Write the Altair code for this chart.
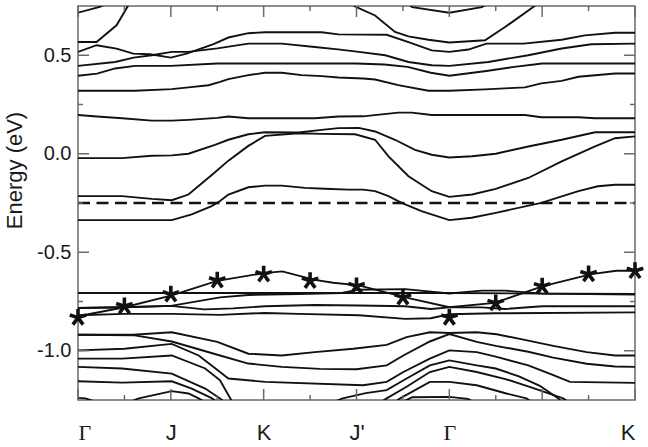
import json
import altair as alt
import pandas as pd

# ---- axis definitions -------------------------------------------------
x_tick_major = [0, 2, 4, 6, 8, 10, 12]
x_tick_minor = [1, 3, 5, 7, 9, 11]
x_label_pos = [0, 2, 4, 6, 8, 12]
x_label_txt = ["Γ", "J", "K", "J'", "Γ", "K"]
y_tick_major = [-1.0, -0.5, 0.0, 0.5]
y_tick_minor = [-0.75, -0.25, 0.25]
fermi_level = -0.25

# ---- bands: (k-path position, energy eV) --------------------------------
band_a = [(0, 0.716), (0.47, 0.745), (0.9, 0.80)]
band_b1 = [(0, 0.567), (0.4, 0.567), (0.83, 0.652), (1.0, 0.72), (1.15, 0.78)]
band_b2 = [(5.6, 0.80), (6.0, 0.744), (6.4, 0.702), (6.83, 0.618), (7.12, 0.596),
           (7.55, 0.579), (8.0, 0.565), (8.77, 0.576), (9.2, 0.643), (9.8, 0.744), (10.0, 0.78)]
band_t = [(6.9, 0.80), (7.2, 0.744), (8.0, 0.716), (8.7, 0.744), (9.0, 0.79)]
band_c = [(0, 0.517), (0.4, 0.551), (0.83, 0.534), (1.19, 0.508), (1.55, 0.505), (2.0, 0.488),
          (2.34, 0.508), (2.92, 0.556), (3.24, 0.59), (3.67, 0.612), (4.03, 0.617), (5.25, 0.617),
          (5.61, 0.606), (6.65, 0.604), (7.12, 0.567), (7.62, 0.525), (8.0, 0.517), (8.41, 0.529),
          (8.8, 0.559), (9.6, 0.559), (10.42, 0.579), (10.92, 0.601), (11.57, 0.614), (12, 0.614)]
band_d = [(0, 0.446), (0.8, 0.466), (1.2, 0.488), (1.59, 0.5), (2.02, 0.517), (2.38, 0.517),
          (3.0, 0.535), (3.67, 0.559), (4.39, 0.559), (5.1, 0.542), (5.6, 0.530), (6.05, 0.517),
          (6.62, 0.5), (7.12, 0.466), (7.62, 0.449), (8.0, 0.446), (8.84, 0.466), (9.7, 0.5),
          (10.42, 0.534), (11.06, 0.556), (12, 0.559)]
band_e = [(0, 0.396), (0.41, 0.407), (0.8, 0.433), (1.23, 0.446), (2.0, 0.446), (3.0, 0.458),
          (6.0, 0.458), (6.6, 0.453), (7.1, 0.441), (7.6, 0.411), (8.0, 0.396), (8.8, 0.42),
          (9.4, 0.441), (10.0, 0.458), (12, 0.458)]
band_f = [(0, 0.32), (1.23, 0.32), (2.02, 0.328), (2.38, 0.337), (2.81, 0.348), (3.06, 0.365),
          (3.24, 0.379), (3.67, 0.399), (4.03, 0.411), (4.39, 0.411), (4.82, 0.399), (5.25, 0.394),
          (5.61, 0.387), (6.14, 0.382), (6.4, 0.377), (6.9, 0.348), (7.55, 0.32), (8.0, 0.32),
          (8.77, 0.327), (9.3, 0.333), (9.63, 0.337), (9.98, 0.357), (10.42, 0.37), (10.78, 0.391),
          (11.57, 0.407), (12, 0.407)]
band_g = [(0, 0.197), (0.41, 0.189), (0.95, 0.18), (1.59, 0.168), (2.02, 0.168), (2.38, 0.172),
          (3.0, 0.182), (3.24, 0.189), (3.67, 0.18), (5.1, 0.18), (5.61, 0.189), (6.14, 0.19),
          (6.9, 0.209), (7.19, 0.209), (7.62, 0.197), (9.63, 0.197), (9.98, 0.185), (10.78, 0.185),
          (11.14, 0.18), (12, 0.18)]
band_h = [(0, -0.022), (0.95, -0.022), (1.59, -0.01), (2.02, -0.008), (2.38, 0.0), (2.95, 0.045),
          (3.24, 0.071), (3.67, 0.099), (4.03, 0.109), (4.75, 0.108), (5.25, 0.121), (5.61, 0.13),
          (6.05, 0.131), (6.4, 0.113), (6.83, 0.071), (7.26, 0.02), (7.62, -0.005), (8.0, -0.019),
          (8.49, -0.013), (9.0, 0.0), (9.7, 0.037), (10.42, 0.071), (11.14, 0.109), (12, 0.109)]
band_i = [(0, -0.215), (0.95, -0.215), (1.59, -0.229), (2.02, -0.236), (2.38, -0.207), (2.92, -0.1),
          (3.24, -0.035), (3.67, 0.04), (4.03, 0.091), (4.75, 0.104), (5.25, 0.101), (5.97, 0.099),
          (6.4, 0.071), (6.69, -0.013), (7.12, -0.114), (7.62, -0.19), (8.0, -0.219), (8.49, -0.207),
          (9.0, -0.178), (9.7, -0.123), (10.42, -0.039), (11.14, 0.037), (11.57, 0.079), (12, 0.088)]
band_j = [(0, -0.337), (2.02, -0.337), (2.45, -0.308), (2.88, -0.266), (3.06, -0.24), (3.24, -0.207),
          (3.67, -0.17), (4.03, -0.162), (4.39, -0.162), (4.89, -0.173), (5.32, -0.178), (5.82, -0.182),
          (6.14, -0.182), (6.4, -0.19), (6.69, -0.215), (6.97, -0.249), (7.4, -0.291), (8.0, -0.337),
          (8.48, -0.325), (9.0, -0.30), (9.98, -0.249), (10.78, -0.19), (11.2, -0.165), (11.57, -0.157),
          (12, -0.157)]
band_s = [(0, -0.825), (1, -0.779), (2, -0.72), (3, -0.645), (4, -0.606), (4.4, -0.597), (5.1, -0.64),
          (5.5, -0.655), (6.05, -0.668), (7.05, -0.729), (8.0, -0.779), (8.98, -0.757), (10.0, -0.673),
          (11.06, -0.611), (11.6, -0.594), (12, -0.594)]
band_l1 = [(0, -0.707), (4, -0.707), (8, -0.707), (12, -0.712)]
band_l2 = [(0, -0.783), (1, -0.779), (2, -0.772), (3.06, -0.729), (3.67, -0.717), (4.75, -0.712),
           (5.68, -0.707), (6.05, -0.69), (7.05, -0.687), (8.0, -0.709), (8.7, -0.695), (9.2, -0.695),
           (10.0, -0.71), (12, -0.715)]
band_l3 = [(0, -0.783), (1, -0.779), (2, -0.772), (2.72, -0.79), (3.34, -0.785), (4.03, -0.774),
           (5.1, -0.768), (6.05, -0.77), (7.05, -0.774), (7.6, -0.788), (8.0, -0.78), (8.7, -0.78),
           (9.2, -0.788), (10.0, -0.774), (12, -0.774)]
band_l4 = [(0, -0.82), (1, -0.813), (2.02, -0.813), (3.06, -0.818), (4.03, -0.808), (4.75, -0.813),
           (6.05, -0.82), (7.05, -0.838), (7.6, -0.835), (8.0, -0.815), (9.0, -0.81), (12, -0.805)]
band_m1 = [(0, -0.919), (1.19, -0.919), (2.02, -0.906), (3.0, -0.955), (3.67, -1.015), (4.39, -1.024),
           (5.1, -1.007), (5.93, -0.99), (6.65, -0.97), (7.08, -0.931), (7.58, -0.906), (8.0, -0.91),
           (8.59, -0.906), (9.02, -0.916), (9.52, -0.94), (10.24, -0.975), (10.96, -1.007),
           (11.57, -1.024), (12, -1.024)]
band_m2 = [(0, -0.919), (1.19, -0.921), (2.02, -0.953), (3.06, -1.024), (3.67, -1.065), (4.39, -1.082),
           (5.21, -1.092), (6.0, -1.094), (6.65, -1.074), (7.01, -1.024), (7.58, -0.953), (8.0, -0.915),
           (8.59, -0.955), (9.0, -0.975), (9.7, -1.005), (10.24, -1.035), (10.96, -1.066),
           (11.57, -1.08), (12, -1.082)]
band_m3 = [(0, -0.998), (1.0, -0.99), (2.02, -0.965), (2.6, -1.024), (3.06, -1.108), (3.24, -1.141),
           (4.03, -1.158), (6.14, -1.175), (6.65, -1.158), (7.01, -1.108), (7.58, -1.04), (8.0, -0.998),
           (8.59, -1.007), (9.0, -1.03), (9.7, -1.074), (10.2, -1.12), (10.6, -1.158), (12, -1.163)]
band_m4 = [(0, -1.04), (0.95, -1.04), (2.02, -1.024), (2.74, -1.09), (3.06, -1.15), (3.3, -1.25), (3.4, -1.30)]
band_m5 = [(0, -1.082), (0.95, -1.09), (2.02, -1.116), (2.74, -1.192), (3.06, -1.242), (3.3, -1.29)]
band_m6 = [(0, -1.155), (0.95, -1.162), (2.02, -1.155), (2.45, -1.192), (2.89, -1.242), (3.1, -1.28)]
band_m7 = [(0, -1.239), (0.16, -1.242), (0.4, -1.26)]
band_m8 = [(1.0, -1.27), (1.31, -1.242), (2.02, -1.205), (2.38, -1.217), (2.6, -1.242), (2.8, -1.27)]
band_r1 = [(5.3, -1.28), (5.7, -1.242), (6.2, -1.215), (6.65, -1.2), (7.08, -1.141), (7.58, -1.074),
           (8.0, -1.049), (8.59, -1.074), (9.0, -1.09), (9.5, -1.13), (9.95, -1.178), (10.35, -1.242),
           (10.5, -1.28)]
band_r2 = [(6.4, -1.28), (6.65, -1.242), (7.08, -1.183), (7.58, -1.108), (8.0, -1.082), (8.59, -1.108),
           (9.23, -1.145), (9.81, -1.19), (10.45, -1.242), (10.7, -1.28)]
band_r3 = [(6.7, -1.28), (6.94, -1.242), (7.58, -1.158), (8.0, -1.158), (8.59, -1.175), (9.23, -1.217),
           (9.66, -1.242), (9.9, -1.28)]
band_r4 = [(6.9, -1.27), (7.2, -1.236), (8.0, -1.234), (8.4, -1.244), (8.6, -1.27)]

# asterisk markers (one per tick position)
star_u = [0, 1, 2, 3, 4, 5, 6, 7, 8, 9, 10, 11, 12]
star_e = [-0.832, -0.774, -0.714, -0.643, -0.612, -0.645, -0.672, -0.729, -0.832,
          -0.758, -0.673, -0.611, -0.595]

bands = {
    "a": band_a, "b1": band_b1, "b2": band_b2, "t": band_t, "c": band_c, "d": band_d,
    "e": band_e, "f": band_f, "g": band_g, "h": band_h, "i": band_i, "j": band_j,
    "s": band_s, "l1": band_l1, "l2": band_l2, "l3": band_l3, "l4": band_l4,
    "m1": band_m1, "m2": band_m2, "m3": band_m3, "m4": band_m4, "m5": band_m5,
    "m6": band_m6, "m7": band_m7, "m8": band_m8, "r1": band_r1, "r2": band_r2,
    "r3": band_r3, "r4": band_r4,
}
band_df = pd.DataFrame([{"band": k, "u": u, "e": e} for k, pts in bands.items() for u, e in pts])
fermi_df = pd.DataFrame({"u": [0, 12], "e": [fermi_level, fermi_level]})
star_df = pd.DataFrame({"u": star_u, "e": star_e})

W, H = 557, 394
INK = "#111111"
FRAME = "#6a6a6a"

xs = alt.Scale(domain=[0, 12], nice=False, zero=False)
ys = alt.Scale(domain=[-1.25, 0.75], nice=False, zero=False)

# label expressions built from the label lists
expr = "''"
for p, t in reversed(list(zip(x_label_pos, x_label_txt))):
    expr = f"datum.value == {p} ? {json.dumps(t, ensure_ascii=False)} : ({expr})"
gamma_test = " || ".join(f"datum.value == {p}" for p, t in zip(x_label_pos, x_label_txt) if t == "Γ")

x_axis = alt.Axis(values=x_label_pos, labelExpr=expr, ticks=False, domain=False, grid=False,
                  labelFontSize=22, labelPadding=22, labelColor="#1a1a1a", title=None,
                  labelFont=alt.condition(gamma_test, alt.value("Liberation Serif"), alt.value("Liberation Sans")))
y_axis = alt.Axis(values=y_tick_major, ticks=False, domain=False, grid=False,
                  labelExpr="datum.value < 0 ? '-' + format(-datum.value, '.1f') : format(datum.value, '.1f')",
                  labelFont="Liberation Sans", labelFontSize=20, labelPadding=7, labelColor="#1a1a1a",
                  title="Energy (eV)", titleFont="Liberation Sans", titleFontSize=22,
                  titleFontWeight="normal", titleColor="#1a1a1a", titleX=-57, titleY=164,
                  titleAlign="center", titleBaseline="alphabetic", titleAngle=270)

X = alt.X("u:Q", scale=xs, axis=x_axis)
Y = alt.Y("e:Q", scale=ys, axis=y_axis)

lines = alt.Chart(band_df).mark_line(color=INK, strokeWidth=1.9, clip=True).encode(
    x=X, y=Y, detail="band:N", order="u:Q")

fermi = alt.Chart(fermi_df).mark_line(color=INK, strokeWidth=2.6, strokeDash=[12, 6.5]).encode(x=X, y=Y)

star_path = "M0,0L0,-1M0,0L0.951,-0.309M0,0L0.588,0.809M0,0L-0.588,0.809M0,0L-0.951,-0.309"
stars = alt.Chart(star_df).mark_point(shape=star_path, size=300, filled=False, stroke=INK,
                                      strokeWidth=3.6, opacity=1).encode(x=X, y=Y)


def xticks(vals, y0, y1):
    return alt.Chart(pd.DataFrame({"u": vals})).mark_rule(color=FRAME, strokeWidth=1.5).encode(
        x=X, y=alt.value(y0), y2=alt.value(y1))


def yticks(vals, x0, x1):
    return alt.Chart(pd.DataFrame({"e": vals})).mark_rule(color=FRAME, strokeWidth=1.5).encode(
        y=Y, x=alt.value(x0), x2=alt.value(x1))


ticks = [
    xticks(x_tick_major, H, H - 11), xticks(x_tick_minor, H, H - 5),
    xticks(x_tick_major, 0, 11), xticks(x_tick_minor, 0, 5),
    yticks(y_tick_major, 0, 11), yticks(y_tick_minor, 0, 5),
    yticks(y_tick_major, W, W - 11), yticks(y_tick_minor, W, W - 5),
]

chart = alt.layer(lines, fermi, stars, *ticks).properties(
    width=W, height=H,
    autosize=alt.AutoSizeParams(type="none"),
    padding={"left": 78, "top": 6, "right": 13, "bottom": 47},
    background="white",
).configure_view(stroke=FRAME, strokeWidth=1.5).configure_axis(grid=False)

chart.save("out.html", embed_options={"renderer": "svg", "actions": False})
